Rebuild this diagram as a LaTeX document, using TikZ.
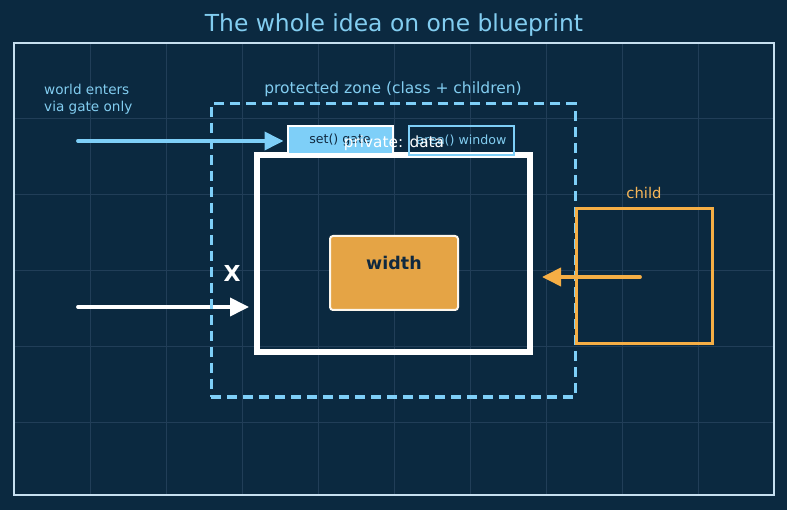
\documentclass[tikz,border=0pt]{standalone}
\usepackage{fontspec}
\setmainfont{DejaVu Sans}
\usetikzlibrary{arrows.meta}
\definecolor{bg}{RGB}{11,41,64}
\definecolor{gridc}{RGB}{33,62,88}
\definecolor{lblue}{RGB}{126,207,248}
\definecolor{tblue}{RGB}{130,205,240}
\definecolor{framec}{RGB}{198,223,240}
\definecolor{orng}{RGB}{245,174,69}
\definecolor{orfill}{RGB}{229,164,69}
\definecolor{darktxt}{RGB}{16,41,63}
\tikzset{
  lbl/.style={font=\fontsize{15.5}{18}\selectfont, text=tblue, inner sep=0pt},
  bigarrow/.style={line width=3.8pt, -{Triangle[length=19pt,width=18pt]}},
  smallbox/.style={draw, line width=2pt, minimum width=105pt, minimum height=28pt, inner sep=0pt, font=\fontsize{12.6}{14}\selectfont},
}
\begin{document}
\begin{tikzpicture}[x=1pt,y=-1pt]
\useasboundingbox (0,0) rectangle (787,510);
\fill[bg] (0,0) rectangle (787,510);
% grid
\foreach \gx in {90,166,...,698} \draw[gridc, line width=0.7pt] (\gx,43) -- (\gx,495);
\foreach \gy in {118,194,...,422} \draw[gridc, line width=0.7pt] (14,\gy) -- (774,\gy);
% frame
\node[draw=framec, line width=2pt, minimum width=760pt, minimum height=452pt, inner sep=0pt] (frame) at (394,269) {};
% title
\node[font=\fontsize{23.4}{28}\selectfont, text=tblue, inner sep=0pt] (title) at (394,25) {The whole idea on one blueprint};
% main box
\node[draw=white, line width=6pt, minimum width=273pt, minimum height=197pt, inner sep=0pt] (main) at (393.5,253.5) {};
% gates
\node[smallbox, draw=white, fill=lblue, text=darktxt] (gate) at (340,140) {set() gate};
\node[smallbox, draw=lblue, text=tblue, minimum height=29pt] (window) at (461.5,140.5) {area() window};
\node[font=\fontsize{15.3}{17}\selectfont, text=white, inner sep=0pt] (priv) at (394,143) {private: data};
% arrows
\coordinate (bstart) at (78,141);
\coordinate (wstart) at (78,307);
\coordinate (wend) at (249,307);
\coordinate (ostart) at (640,277);
\coordinate (oend) at (542,277);
\draw[bigarrow, lblue, line cap=round] (bstart) -- ([xshift=-3pt]gate.west |- bstart);
\draw[bigarrow, white, line cap=round] (wstart) -- (wend);
% protected zone
\node[draw=lblue, dash pattern=on 10pt off 6pt, line width=3pt, minimum width=364pt, minimum height=293pt, inner sep=0pt] (zone) at (393,250.5) {};
\node[lbl] (zonelbl) at (393,89) {protected zone (class + children)};
% world label
\node[lbl, font=\fontsize{13.6}{17}\selectfont, align=left, anchor=north west] (world) at (44,84) {world enters\\via gate only};
% width
\node[draw=white!90!orfill, fill=orfill, rounded corners=3pt, line width=2pt, minimum width=128pt, minimum height=74pt, inner sep=0pt] (width) at (394,273) {};
\node[font=\bfseries\fontsize{17.5}{19}\selectfont, text=darktxt, inner sep=0pt] (wlbl) at (394,263) {width};
% X
\node[font=\bfseries\fontsize{22}{24}\selectfont, text=white, inner sep=0pt] (xlbl) at (232,273) {X};
% child
\node[draw=orng, line width=3pt, minimum width=136pt, minimum height=135pt, inner sep=0pt] (child) at (644,276.5) {};
\node[font=\fontsize{14.8}{17}\selectfont, text=orng!90!white, inner sep=0pt] (childlbl) at (644,193) {child};
\draw[bigarrow, orng, line cap=round] (ostart) -- (oend);
\end{tikzpicture}
\end{document}
